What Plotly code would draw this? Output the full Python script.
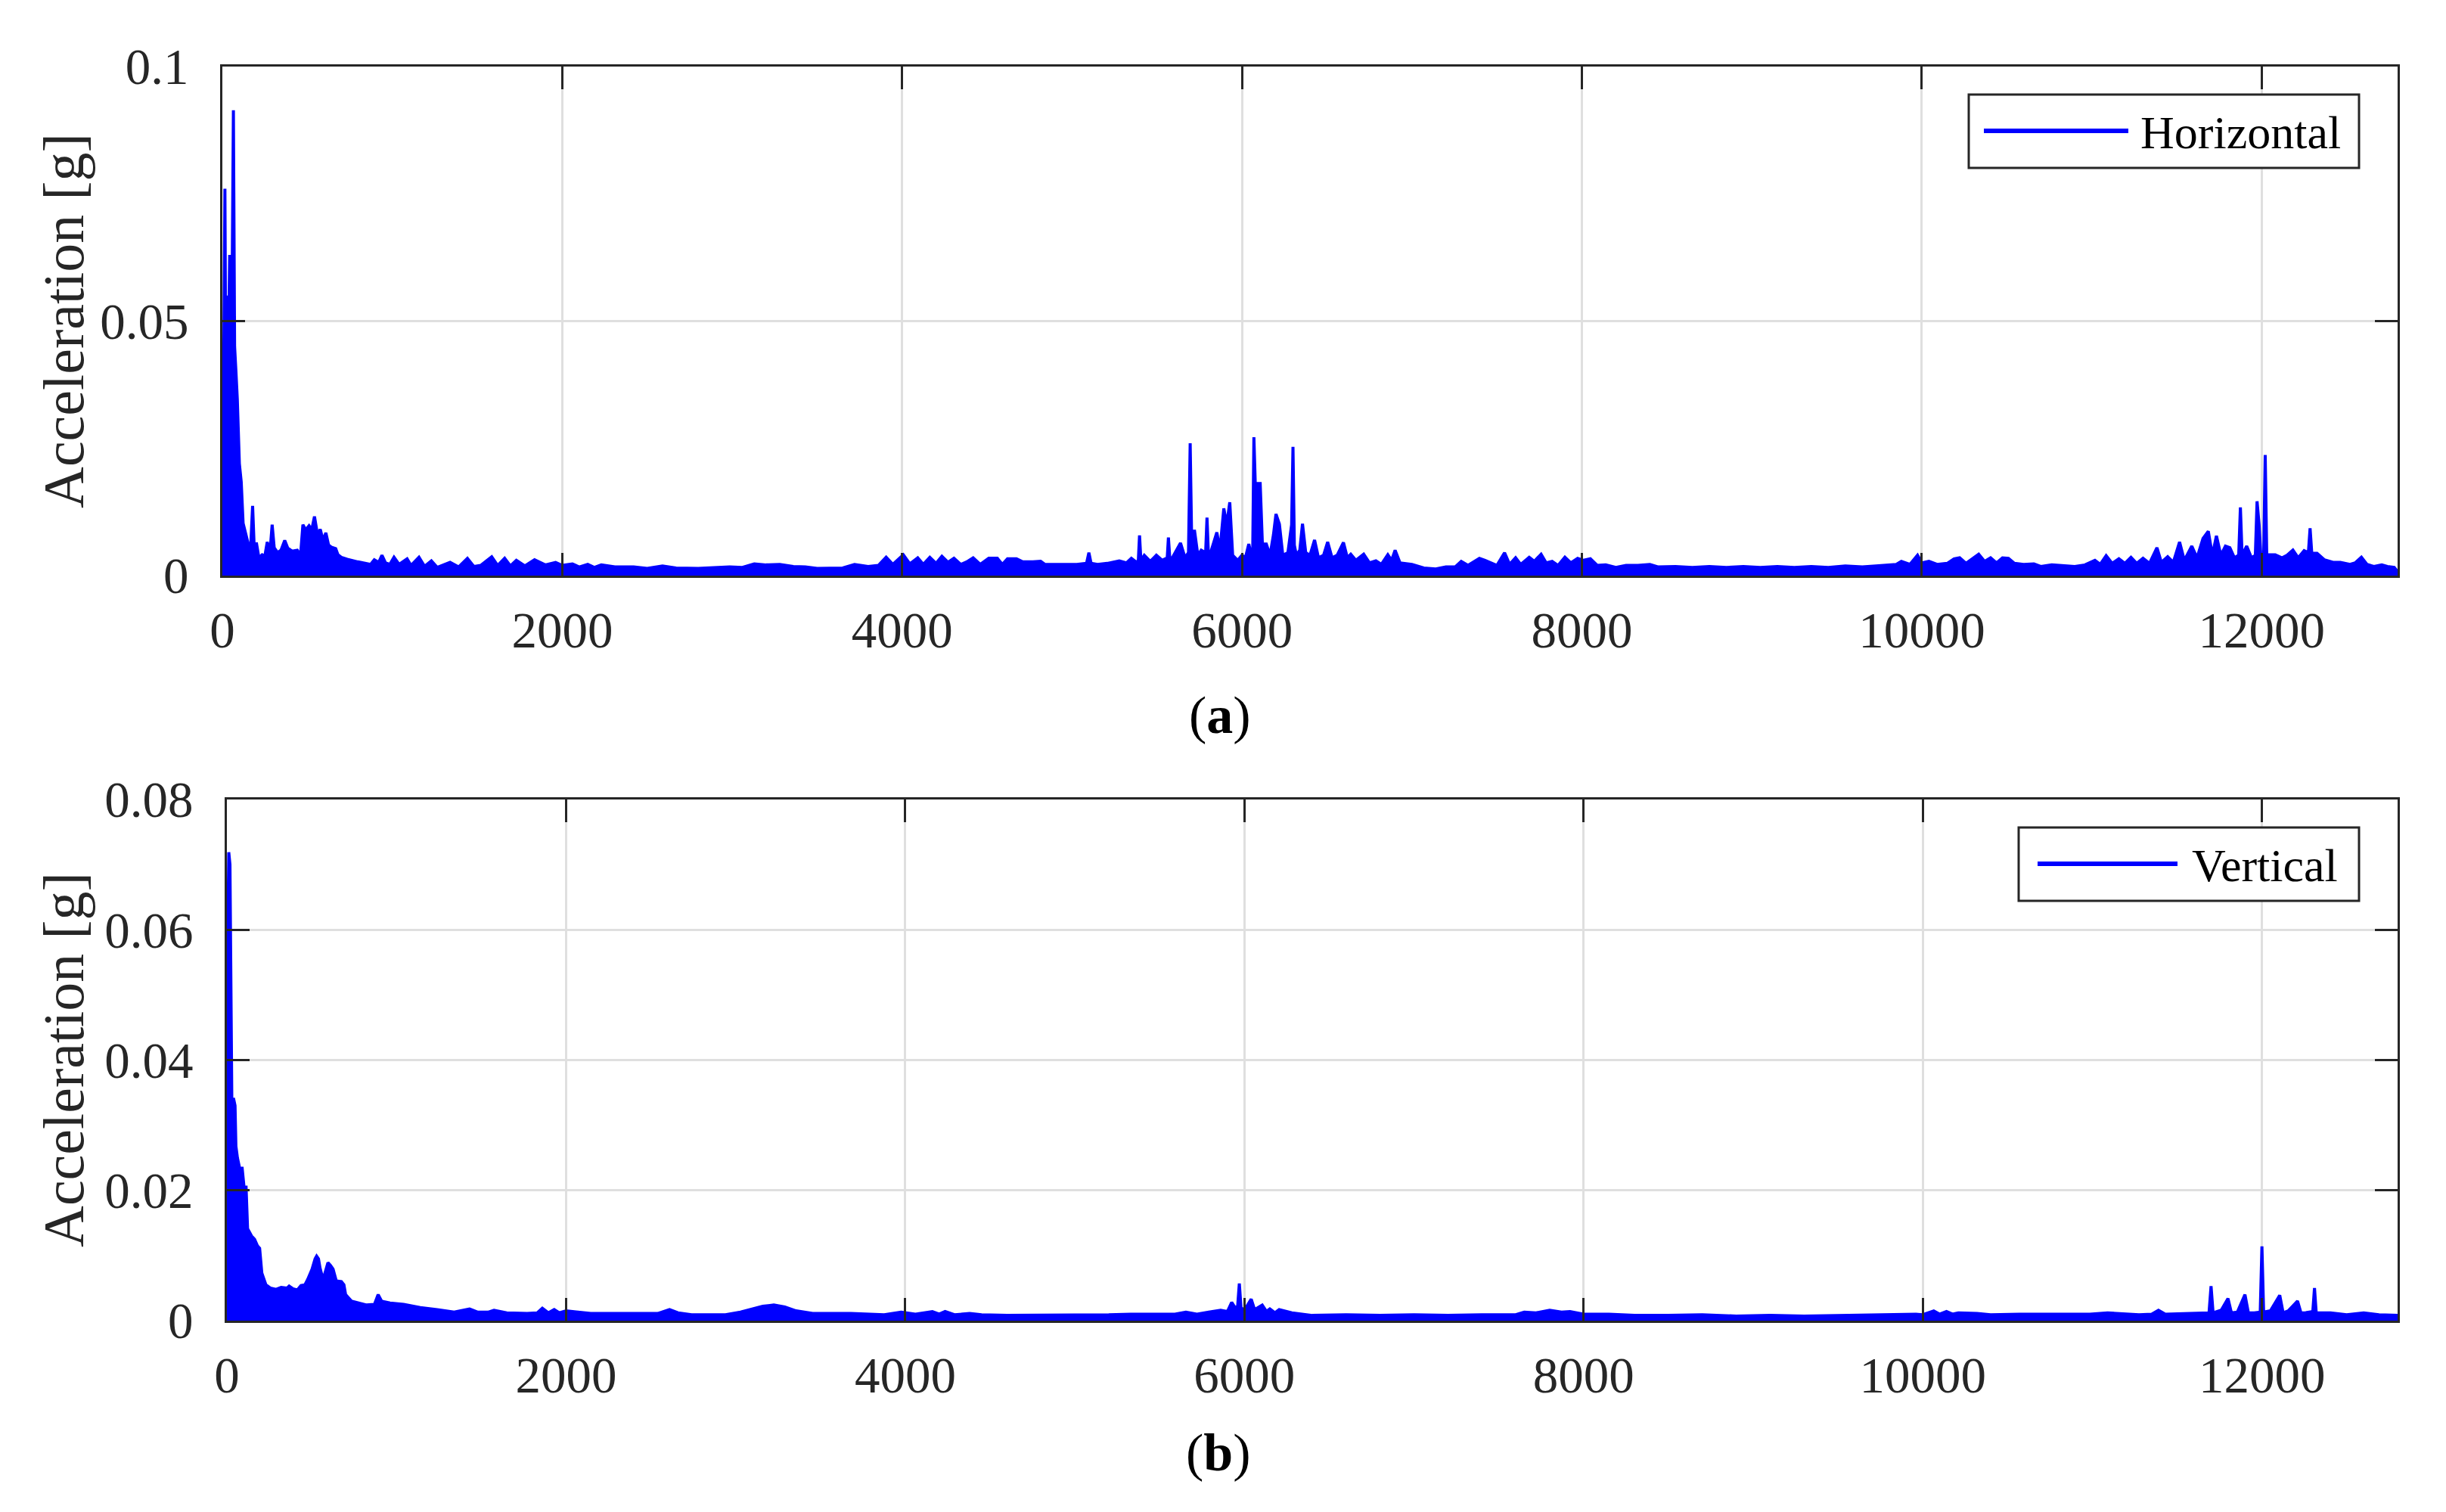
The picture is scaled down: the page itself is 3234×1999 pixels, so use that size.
import plotly.graph_objects as go

# page is 3234x1999; the browser body has an 8px margin, so the figure itself is smaller
W, H = 3218, 1983
OFF = 8

# ---------------- data ----------------
freq_h = [0, 5, 10, 15, 20, 28, 36, 43, 50, 58, 65, 72, 80, 88, 100, 111, 122, 135, 150, 165, 178, 188,
          200, 215, 234, 250, 264, 280, 293, 305, 325, 345, 367, 385, 410, 441, 460, 474, 490, 510, 526,
          542, 560, 576, 592, 609, 625, 641, 667, 680, 700, 735, 797, 840, 872, 894, 920, 939, 960, 985,
          1010, 1040, 1087, 1110, 1157, 1190, 1230, 1265, 1300, 1340, 1390, 1442, 1480, 1520, 1585, 1620,
          1661, 1695, 1730, 1780, 1837, 1900, 1961, 2000, 2060, 2100, 2150, 2190, 2230, 2310, 2420, 2500,
          2590, 2670, 2800, 2900, 2985, 3060, 3130, 3200, 3280, 3360, 3430, 3500, 3650, 3720, 3800, 3860,
          3906, 3945, 4007, 4045, 4092, 4125, 4163, 4200, 4234, 4270, 4305, 4345, 4380, 4418, 4460, 4510,
          4560, 4590, 4620, 4673, 4710, 4770, 4815, 4840, 4887, 4960, 5028, 5085, 5099, 5112, 5150, 5207,
          5278, 5320, 5349, 5380, 5390, 5397, 5405, 5425, 5460, 5496, 5530, 5560, 5567, 5575, 5590, 5638,
          5665, 5685, 5695, 5705, 5720, 5740, 5760, 5786, 5794, 5802, 5815, 5852, 5870, 5893, 5910, 5928,
          5945, 5975, 6000, 6020, 6040, 6055, 6063, 6070, 6078, 6090, 6107, 6120, 6143, 6165, 6185, 6200,
          6220, 6240, 6270, 6292, 6300, 6308, 6320, 6340, 6356, 6375, 6400, 6427, 6450, 6480, 6504, 6530,
          6560, 6597, 6620, 6640, 6670, 6716, 6750, 6788, 6820, 6858, 6880, 6901, 6930, 7000, 7070, 7140,
          7200, 7255, 7290, 7330, 7397, 7430, 7470, 7500, 7545, 7575, 7610, 7640, 7690, 7720, 7760, 7790,
          7825, 7860, 7900, 7935, 7975, 8010, 8050, 8090, 8140, 8200, 8260, 8330, 8400, 8450, 8550, 8650,
          8750, 8850, 8950, 9050, 9150, 9250, 9350, 9450, 9550, 9650, 9730, 9790, 9850, 9880, 9930, 9975,
          10000, 10042, 10090, 10150, 10190, 10223, 10260, 10335, 10370, 10405, 10440, 10475, 10510,
          10545, 10600, 10660, 10700, 10765, 10830, 10900, 10960, 11019, 11050, 11085, 11120, 11160,
          11195, 11231, 11265, 11302, 11340, 11384, 11410, 11447, 11480, 11517, 11545, 11589, 11620,
          11655, 11686, 11710, 11734, 11760, 11787, 11813, 11840, 11865, 11875, 11885, 11912, 11940,
          11963, 11973, 11985, 11995, 12012, 12021, 12030, 12045, 12080, 12120, 12150, 12184, 12215,
          12250, 12275, 12285, 12295, 12326, 12370, 12420, 12463, 12520, 12550, 12587, 12620, 12660,
          12707, 12740, 12780, 12800]
acc_h = [0.0010, 0.0230, 0.0450, 0.0760, 0.0400, 0.0550, 0.0450, 0.0630, 0.0500, 0.0600, 0.0914, 0.0450,
         0.0400, 0.0346, 0.0220, 0.0184, 0.0103, 0.0085, 0.0060, 0.0045, 0.0137, 0.0050, 0.0065, 0.0035,
         0.0041, 0.0038, 0.0066, 0.0045, 0.0100, 0.0055, 0.0045, 0.0050, 0.0069, 0.0054, 0.0048, 0.0050,
         0.0040, 0.0100, 0.0090, 0.0098, 0.0090, 0.0116, 0.0080, 0.0091, 0.0070, 0.0084, 0.0060, 0.0056,
         0.0053, 0.0041, 0.0036, 0.0032, 0.0027, 0.0024, 0.0022, 0.0031, 0.0026, 0.0040, 0.0025, 0.0022,
         0.0036, 0.0022, 0.0033, 0.0020, 0.0036, 0.0018, 0.0029, 0.0016, 0.0020, 0.0026, 0.0017, 0.0034,
         0.0018, 0.0020, 0.0037, 0.0020, 0.0034, 0.0019, 0.0030, 0.0019, 0.0031, 0.0021, 0.0026, 0.0020,
         0.0023, 0.0017, 0.0022, 0.0016, 0.0021, 0.0017, 0.0017, 0.0014, 0.0019, 0.0015, 0.0014, 0.0015,
         0.0017, 0.0016, 0.0023, 0.0021, 0.0022, 0.0018, 0.0017, 0.0014, 0.0015, 0.0022, 0.0018, 0.0020,
         0.0036, 0.0022, 0.0041, 0.0023, 0.0035, 0.0022, 0.0036, 0.0024, 0.0038, 0.0026, 0.0034, 0.0022,
         0.0027, 0.0035, 0.0022, 0.0034, 0.0034, 0.0022, 0.0033, 0.0033, 0.0027, 0.0027, 0.0028, 0.0022,
         0.0022, 0.0023, 0.0022, 0.0024, 0.0045, 0.0024, 0.0022, 0.0024, 0.0029, 0.0025, 0.0034, 0.0026,
         0.0030, 0.0079, 0.0030, 0.0040, 0.0028, 0.0040, 0.0030, 0.0035, 0.0075, 0.0035, 0.0035, 0.0064,
         0.0035, 0.0045, 0.0260, 0.0045, 0.0090, 0.0040, 0.0050, 0.0045, 0.0114, 0.0045, 0.0045, 0.0085,
         0.0050, 0.0132, 0.0100, 0.0144, 0.0040, 0.0030, 0.0040, 0.0035, 0.0062, 0.0040, 0.0045, 0.0272,
         0.0181, 0.0181, 0.0181, 0.0062, 0.0062, 0.0040, 0.0080, 0.0121, 0.0101, 0.0040, 0.0045, 0.0100,
         0.0253, 0.0060, 0.0040, 0.0050, 0.0102, 0.0045, 0.0040, 0.0070, 0.0035, 0.0040, 0.0066, 0.0035,
         0.0040, 0.0065, 0.0035, 0.0042, 0.0030, 0.0042, 0.0025, 0.0029, 0.0022, 0.0041, 0.0030, 0.0050,
         0.0025, 0.0022, 0.0015, 0.0013, 0.0017, 0.0017, 0.0028, 0.0020, 0.0034, 0.0030, 0.0025, 0.0020,
         0.0045, 0.0022, 0.0035, 0.0022, 0.0036, 0.0028, 0.0042, 0.0025, 0.0028, 0.0020, 0.0036, 0.0025,
         0.0034, 0.0030, 0.0033, 0.0020, 0.0021, 0.0016, 0.0020, 0.0020, 0.0022, 0.0017, 0.0018, 0.0016,
         0.0018, 0.0016, 0.0018, 0.0016, 0.0018, 0.0016, 0.0018, 0.0016, 0.0019, 0.0017, 0.0019, 0.0020,
         0.0022, 0.0028, 0.0022, 0.0040, 0.0025, 0.0028, 0.0022, 0.0024, 0.0033, 0.0035, 0.0024, 0.0042,
         0.0028, 0.0035, 0.0025, 0.0035, 0.0034, 0.0024, 0.0022, 0.0023, 0.0018, 0.0021, 0.0019, 0.0018,
         0.0021, 0.0030, 0.0022, 0.0039, 0.0024, 0.0033, 0.0024, 0.0036, 0.0024, 0.0034, 0.0024, 0.0055,
         0.0026, 0.0037, 0.0026, 0.0066, 0.0030, 0.0058, 0.0035, 0.0073, 0.0087, 0.0040, 0.0078, 0.0040,
         0.0058, 0.0055, 0.0035, 0.0040, 0.0134, 0.0040, 0.0058, 0.0035, 0.0040, 0.0146, 0.0100, 0.0040,
         0.0040, 0.0237, 0.0041, 0.0041, 0.0041, 0.0035, 0.0040, 0.0050, 0.0035, 0.0049, 0.0045, 0.0093,
         0.0044, 0.0044, 0.0031, 0.0026, 0.0026, 0.0022, 0.0025, 0.0036, 0.0022, 0.0018, 0.0021, 0.0018,
         0.0016, 0.0008]

freq_v = [0, 3, 8, 11, 18, 25, 29, 40, 48, 53, 62, 75, 90, 101, 113, 122, 145, 163, 180, 193, 206, 230,
          256, 290, 320, 355, 367, 390, 415, 437, 460, 476, 502, 520, 529, 540, 549, 567, 585, 596, 610,
          626, 645, 675, 690, 700, 734, 784, 824, 870, 892, 912, 962, 1042, 1140, 1240, 1340, 1431, 1480,
          1540, 1575, 1650, 1770, 1830, 1860, 1895, 1930, 1960, 2000, 2145, 2300, 2450, 2540, 2610, 2660,
          2740, 2940, 3029, 3094, 3160, 3225, 3290, 3356, 3454, 3680, 3876, 3976, 4060, 4160, 4200, 4235,
          4290, 4380, 4450, 4600, 4800, 5000, 5200, 5330, 5590, 5655, 5720, 5790, 5860, 5900, 5925, 5945,
          5960, 5970, 5980, 6000, 6040, 6060, 6075, 6105, 6130, 6150, 6180, 6205, 6280, 6400, 6600, 6800,
          7000, 7200, 7400, 7600, 7650, 7720, 7800, 7870, 7920, 8000, 8150, 8300, 8500, 8700, 8900, 9100,
          9300, 9500, 9700, 9870, 9960, 10000, 10065, 10100, 10140, 10175, 10210, 10320, 10400, 10570,
          10760, 10985, 11090, 11275, 11350, 11390, 11430, 11600, 11688, 11700, 11712, 11760, 11800,
          11820, 11855, 11900, 11920, 11955, 11990, 12000, 12010, 12050, 12070, 12105, 12125, 12155,
          12210, 12230, 12255, 12300, 12310, 12320, 12405, 12500, 12600, 12690, 12800]
acc_v = [0.0010, 0.0600, 0.0650, 0.0719, 0.0700, 0.0500, 0.0340, 0.0340, 0.0330, 0.0268, 0.0250, 0.0234,
         0.0234, 0.0205, 0.0205, 0.0141, 0.0130, 0.0125, 0.0115, 0.0111, 0.0073, 0.0055, 0.0050, 0.0048,
         0.0051, 0.0050, 0.0053, 0.0049, 0.0047, 0.0054, 0.0055, 0.0063, 0.0079, 0.0095, 0.0099, 0.0095,
         0.0081, 0.0063, 0.0080, 0.0089, 0.0085, 0.0079, 0.0061, 0.0060, 0.0055, 0.0040, 0.0030, 0.0027,
         0.0024, 0.0025, 0.0040, 0.0030, 0.0027, 0.0025, 0.0020, 0.0017, 0.0013, 0.0018, 0.0013, 0.0013,
         0.0016, 0.0012, 0.0011, 0.0012, 0.0019, 0.0012, 0.0017, 0.0012, 0.0015, 0.0011, 0.0011, 0.0011,
         0.0011, 0.0017, 0.0012, 0.0009, 0.0009, 0.0013, 0.0017, 0.0022, 0.0024, 0.0021, 0.0015, 0.0011,
         0.0011, 0.0009, 0.0013, 0.0010, 0.0014, 0.0010, 0.0014, 0.0009, 0.0011, 0.0009, 0.0008, 0.0008,
         0.0008, 0.0009, 0.0010, 0.0010, 0.0013, 0.0010, 0.0013, 0.0016, 0.0014, 0.0028, 0.0020, 0.0022,
         0.0057, 0.0020, 0.0016, 0.0033, 0.0017, 0.0019, 0.0024, 0.0014, 0.0018, 0.0012, 0.0017, 0.0012,
         0.0008, 0.0009, 0.0008, 0.0009, 0.0008, 0.0009, 0.0009, 0.0013, 0.0012, 0.0016, 0.0013, 0.0014,
         0.0010, 0.0010, 0.0008, 0.0008, 0.0009, 0.0007, 0.0008, 0.0007, 0.0008, 0.0008, 0.0009, 0.0010,
         0.0009, 0.0015, 0.0010, 0.0014, 0.0010, 0.0012, 0.0011, 0.0009, 0.0010, 0.0010, 0.0010, 0.0012,
         0.0009, 0.0010, 0.0016, 0.0010, 0.0011, 0.0012, 0.0053, 0.0012, 0.0016, 0.0034, 0.0012, 0.0013,
         0.0040, 0.0012, 0.0012, 0.0013, 0.0114, 0.0013, 0.0015, 0.0024, 0.0039, 0.0012, 0.0015, 0.0030,
         0.0012, 0.0012, 0.0014, 0.0050, 0.0012, 0.0012, 0.0009, 0.0012, 0.0009, 0.0008]

x_ticks = [0, 2000, 4000, 6000, 8000, 10000, 12000]
x_ticklabels = ["0", "2000", "4000", "6000", "8000", "10000", "12000"]
y_ticks_top = [0, 0.05, 0.1]
y_ticklabels_top = ["0", "0.05", "0.1"]
y_ticks_bot = [0, 0.02, 0.04, 0.06, 0.08]
y_ticklabels_bot = ["0", "0.02", "0.04", "0.06", "0.08"]
series_names = ["Horizontal", "Vertical"]
captions = ["(<b>a</b>)", "(<b>b</b>)"]
y_title = "Acceleration [g]"

# ---------------- styling ----------------
BLUE = "#0000ff"
AX = "#262626"
GRID = "#dfdfdf"
FONT = "Liberation Serif"


def px_x(p):
    return (p - OFF) / W


def px_y(p):
    return 1 - (p - OFF) / H


fig = go.Figure()
fig.add_trace(go.Scatter(x=freq_h, y=acc_h, mode="lines", fill="tozeroy",
                         fillcolor=BLUE, line=dict(color=BLUE, width=4),
                         xaxis="x", yaxis="y", showlegend=False, name=series_names[0]))
fig.add_trace(go.Scatter(x=freq_v, y=acc_v, mode="lines", fill="tozeroy",
                         fillcolor=BLUE, line=dict(color=BLUE, width=4),
                         xaxis="x2", yaxis="y2", showlegend=False, name=series_names[1]))

common_ax = dict(showline=True, linecolor=AX, linewidth=3, mirror="ticks", ticks="inside",
                 ticklen=30, tickwidth=3, tickcolor=AX, showgrid=True, gridcolor=GRID,
                 gridwidth=3, zeroline=False, automargin=False,
                 tickfont=dict(family=FONT, size=67, color=AX))

fig.update_layout(
    width=W, height=H, margin=dict(l=0, r=0, t=0, b=0, pad=0, autoexpand=False),
    paper_bgcolor="white", plot_bgcolor="white", showlegend=False,
    xaxis=dict(domain=[px_x(294), px_x(3170)], range=[0, 12800], tickvals=x_ticks,
               ticktext=x_ticklabels, anchor="y", ticklabelstandoff=12, **common_ax),
    yaxis=dict(domain=[px_y(761), px_y(88)], range=[0, 0.1], tickvals=y_ticks_top,
               ticktext=y_ticklabels_top, anchor="x", ticklabelstandoff=28, **common_ax),
    xaxis2=dict(domain=[px_x(300), px_x(3170)], range=[0, 12800], tickvals=x_ticks,
                ticktext=x_ticklabels, anchor="y2", ticklabelstandoff=12, **common_ax),
    yaxis2=dict(domain=[px_y(1746), px_y(1057)], range=[0, 0.08], tickvals=y_ticks_bot,
                ticktext=y_ticklabels_bot, anchor="x2", ticklabelstandoff=28, **common_ax),
)

shapes = []
annotations = []

# y-axis titles
for yc in (424, 1401):
    annotations.append(dict(x=px_x(84), y=px_y(yc), xref="paper", yref="paper", text=y_title,
                            textangle=-90, showarrow=False, xanchor="center", yanchor="middle",
                            font=dict(family=FONT, size=76, color=AX)))

# captions
for (xc, yc), cap in zip([(1613, 946), (1611, 1920)], captions):
    annotations.append(dict(x=px_x(xc), y=px_y(yc), xref="paper", yref="paper", text=cap,
                            showarrow=False, xanchor="center", yanchor="middle",
                            font=dict(family=FONT, size=70, color="black")))

# legends (box, line sample, label)
legend_boxes = [(2603, 125, 3119, 222, 2623, 2814, 173, 2828),
                (2669, 1094, 3119, 1191, 2694, 2879, 1142, 2896)]
for (x0, y0, x1, y1, lx0, lx1, ly, tx), name in zip(legend_boxes, series_names):
    shapes.append(dict(type="rect", xref="paper", yref="paper", x0=px_x(x0), x1=px_x(x1),
                       y0=px_y(y1), y1=px_y(y0), line=dict(color=AX, width=3),
                       fillcolor="white", layer="above"))
    shapes.append(dict(type="line", xref="paper", yref="paper", x0=px_x(lx0), x1=px_x(lx1),
                       y0=px_y(ly), y1=px_y(ly), line=dict(color=BLUE, width=6), layer="above"))
    annotations.append(dict(x=px_x(tx), y=px_y(ly + 2), xref="paper", yref="paper", text=name,
                            showarrow=False, xanchor="left", yanchor="middle",
                            font=dict(family=FONT, size=62, color="black")))

fig.update_layout(shapes=shapes, annotations=annotations)
fig.write_html("out.html")
